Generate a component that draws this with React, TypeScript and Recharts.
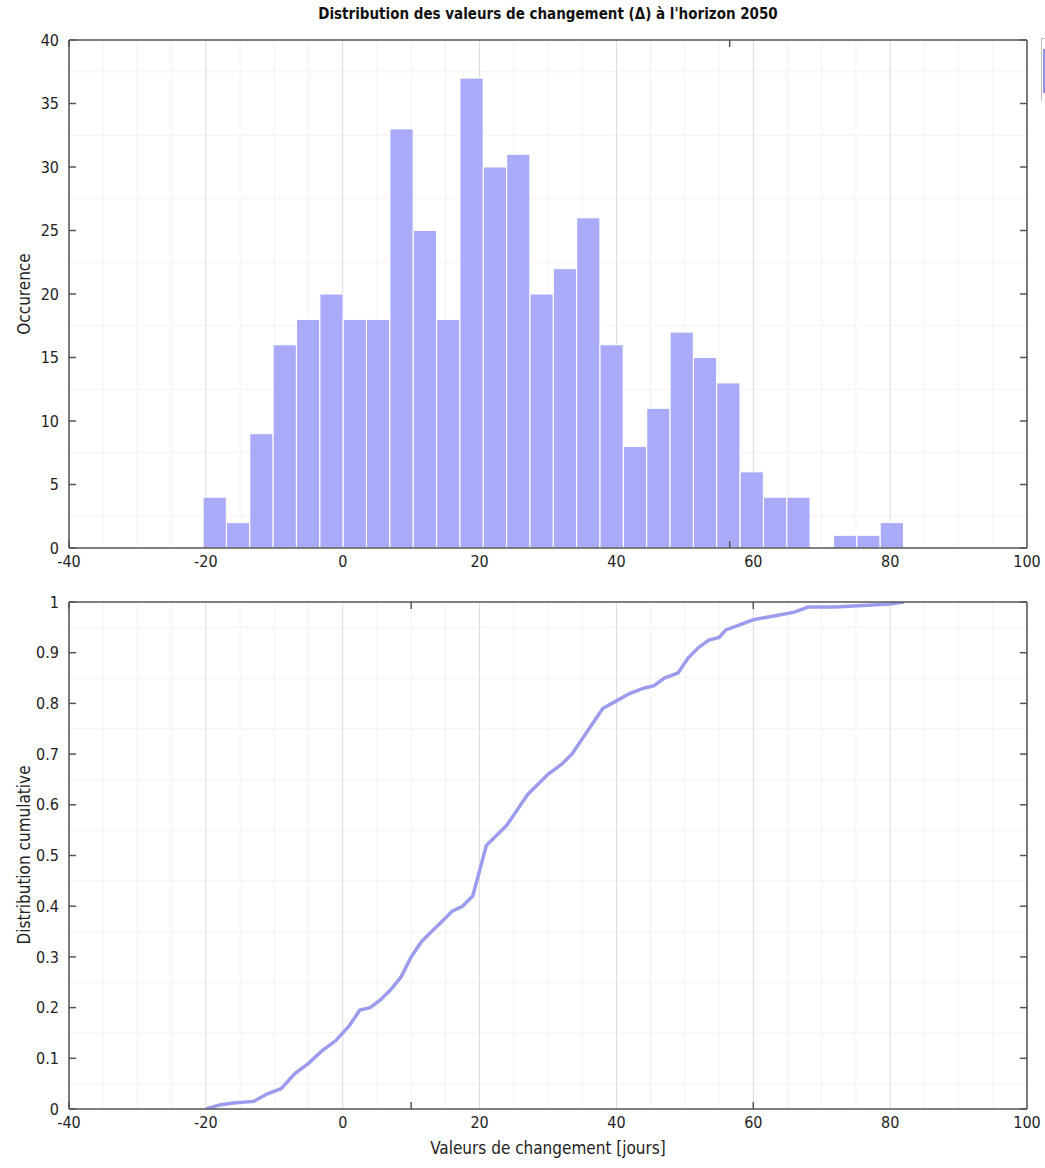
import React from 'react';
import { ComposedChart, Bar, LineChart, Line, XAxis, YAxis, CartesianGrid } from 'recharts';

// histogram bins (centre of each bin, width ~3.41 days) and counts
const binCenters = [
  -18.69, -15.28, -11.87, -8.46, -5.04, -1.63, 1.78, 5.19, 8.61, 12.02,
  15.43, 18.84, 22.25, 25.67, 29.08, 32.49, 35.9, 39.31, 42.73, 46.14,
  49.55, 52.96, 56.37, 59.79, 63.2, 66.61, 70.02, 73.43, 76.85, 80.26,
];
const counts = [
  4, 2, 9, 16, 18, 20, 18, 18, 33, 25,
  18, 37, 30, 31, 20, 22, 26, 16, 8, 11,
  17, 15, 13, 6, 4, 4, 0, 1, 1, 2,
];

// cumulative distribution
const cdfX = [
  -20, -18, -16, -13, -11, -9, -7, -5, -3, -1, 1, 2.5, 4, 5.5, 7, 8.5, 10, 11.5, 13, 14.5,
  16, 17.5, 19, 20, 21, 22.5, 24, 25.5, 27, 28.5, 30, 32, 33.5, 35, 36.5, 38, 40, 42, 44, 45.5,
  47, 49, 50.5, 52, 53.5, 55, 56, 58, 60, 62, 64, 66, 68, 72, 76, 80, 82,
];
const cdfY = [
  0, 0.008, 0.012, 0.015, 0.03, 0.04, 0.07, 0.09, 0.115, 0.135, 0.165, 0.195, 0.2, 0.215, 0.235, 0.26, 0.3, 0.33, 0.35, 0.37,
  0.39, 0.4, 0.42, 0.47, 0.52, 0.54, 0.56, 0.59, 0.62, 0.64, 0.66, 0.68, 0.7, 0.73, 0.76, 0.79, 0.805, 0.82, 0.83, 0.835,
  0.85, 0.86, 0.89, 0.91, 0.925, 0.93, 0.945, 0.955, 0.965, 0.97, 0.975, 0.98, 0.99, 0.99, 0.993, 0.996, 1,
];

const xTicks = [-40, -20, 0, 20, 40, 60, 80, 100];
const xMinor = [-35, -30, -25, -15, -10, -5, 5, 10, 15, 25, 30, 35, 45, 50, 55, 65, 70, 75, 85, 90, 95];
const occTicks = [0, 5, 10, 15, 20, 25, 30, 35, 40];
const occMinor = [2.5, 7.5, 12.5, 17.5, 22.5, 27.5, 32.5, 37.5];
const cdfTicks = [0, 0.1, 0.2, 0.3, 0.4, 0.5, 0.6, 0.7, 0.8, 0.9, 1];
const cdfMinor = [0.05, 0.15, 0.25, 0.35, 0.45, 0.55, 0.65, 0.75, 0.85, 0.95];

const histData = binCenters.map((c, i) => ({ c, n: counts[i] }));
const cdfData = cdfX.map((x, i) => ({ x, f: cdfY[i] }));

const FONT = '"Liberation Sans Narrow", "DejaVu Sans Condensed", "Arial Narrow", "Liberation Sans", sans-serif';
const BAR = '#aaabf8';
const LINE = '#9c9cee';
const AXIS = '#555';
const tickStyle = { fill: '#222', fontSize: 16, fontFamily: FONT };
const blank = () => '';

const W = 1045;
const plotW = 1027 - 69;
// a hair under the bin width, otherwise recharts shrinks the bars to 90%
const binPx = (3.41 / 140) * plotW - 0.15;

const yTitle: React.CSSProperties = {
  position: 'absolute',
  left: 24,
  transform: 'translate(-50%, -50%) rotate(-90deg)',
  whiteSpace: 'nowrap',
  fontSize: 17,
  fontFamily: FONT,
  color: '#222',
};

const App: React.FC = () => {
  return (
    <div style={{ position: 'absolute', left: 0, top: 0, width: W, height: 1168, background: '#fff', overflow: 'hidden' }}>
      <div style={{ position: 'absolute', left: 69, top: 5, width: plotW, textAlign: 'center', fontFamily: FONT, fontWeight: 'bold', fontSize: 15, color: '#111' }}>
        Distribution des valeurs de changement (Δ) à l'horizon 2050
      </div>

      {/* top panel: histogram */}
      <div style={{ position: 'absolute', left: 0, top: 0 }}>
        <ComposedChart width={W} height={575} data={histData} margin={{ top: 40, right: 18, left: 0, bottom: 0 }}>
          <CartesianGrid xAxisId="x" yAxisId="y" stroke="#f3f3f3" verticalValues={xMinor} horizontalValues={occMinor} />
          <CartesianGrid xAxisId="x" yAxisId="y" stroke="#dadada" horizontal={false} verticalValues={xTicks} />
          <XAxis xAxisId="x" type="number" dataKey="c" domain={[-40, 100]} ticks={xTicks} allowDataOverflow
            height={27} tickSize={0} tickMargin={8} tickLine={false} axisLine={{ stroke: AXIS, strokeWidth: 1.5 }} tick={tickStyle} />
          <XAxis xAxisId="xin" type="number" orientation="bottom" mirror domain={[-40, 100]} ticks={xTicks} allowDataOverflow
            tickSize={7} tickFormatter={blank} axisLine={false} tickLine={{ stroke: AXIS, strokeWidth: 1.5 }} />
          <XAxis xAxisId="xtop" type="number" orientation="top" mirror domain={[-40, 100]} ticks={xTicks} allowDataOverflow
            tickSize={7} tickFormatter={blank} axisLine={{ stroke: AXIS, strokeWidth: 1.5 }} tickLine={{ stroke: AXIS, strokeWidth: 1.5 }} />
          <YAxis yAxisId="y" type="number" domain={[0, 40]} ticks={occTicks} width={69} allowDataOverflow
            tickSize={0} tickMargin={10} tickLine={false} axisLine={{ stroke: AXIS, strokeWidth: 1.5 }} tick={tickStyle} />
          <YAxis yAxisId="yin" type="number" orientation="left" mirror domain={[0, 40]} ticks={occTicks} allowDataOverflow
            tickSize={7} tickFormatter={blank} axisLine={false} tickLine={{ stroke: AXIS, strokeWidth: 1.5 }} />
          <YAxis yAxisId="yright" type="number" orientation="right" mirror domain={[0, 40]} ticks={occTicks} allowDataOverflow
            tickSize={7} tickFormatter={blank} axisLine={{ stroke: AXIS, strokeWidth: 1.5 }} tickLine={{ stroke: AXIS, strokeWidth: 1.5 }} />
          <Bar xAxisId="x" yAxisId="y" dataKey="n" fill={BAR} stroke="#fff" strokeWidth={1} barSize={binPx} isAnimationActive={false} />
        </ComposedChart>
      </div>
      <div style={{ ...yTitle, top: 294 }}>Occurence</div>

      {/* bottom panel: cumulative distribution */}
      <div style={{ position: 'absolute', left: 0, top: 580 }}>
        <LineChart width={W} height={588} data={cdfData} margin={{ top: 22, right: 18, left: 0, bottom: 0 }}>
          <CartesianGrid xAxisId="x" yAxisId="y" stroke="#f3f3f3" verticalValues={xMinor} horizontalValues={cdfMinor} />
          <CartesianGrid xAxisId="x" yAxisId="y" stroke="#dadada" horizontal={false} verticalValues={xTicks} />
          <XAxis xAxisId="x" type="number" dataKey="x" domain={[-40, 100]} ticks={xTicks} allowDataOverflow
            height={59} tickSize={0} tickMargin={8} tickLine={false} axisLine={{ stroke: AXIS, strokeWidth: 1.5 }} tick={tickStyle}
            label={{ value: 'Valeurs de changement [jours]', position: 'insideBottom', offset: 14, style: { fill: '#222', fontSize: 17, fontFamily: FONT } }} />
          <XAxis xAxisId="xin" type="number" orientation="bottom" mirror domain={[-40, 100]} ticks={xTicks} allowDataOverflow
            tickSize={7} tickFormatter={blank} axisLine={false} tickLine={{ stroke: AXIS, strokeWidth: 1.5 }} />
          <XAxis xAxisId="xtop" type="number" orientation="top" mirror domain={[-40, 100]} ticks={xTicks} allowDataOverflow
            tickSize={7} tickFormatter={blank} axisLine={{ stroke: AXIS, strokeWidth: 1.5 }} tickLine={{ stroke: AXIS, strokeWidth: 1.5 }} />
          <YAxis yAxisId="y" type="number" domain={[0, 1]} ticks={cdfTicks} width={69} allowDataOverflow
            tickSize={0} tickMargin={10} tickLine={false} axisLine={{ stroke: AXIS, strokeWidth: 1.5 }} tick={tickStyle} />
          <YAxis yAxisId="yin" type="number" orientation="left" mirror domain={[0, 1]} ticks={cdfTicks} allowDataOverflow
            tickSize={7} tickFormatter={blank} axisLine={false} tickLine={{ stroke: AXIS, strokeWidth: 1.5 }} />
          <YAxis yAxisId="yright" type="number" orientation="right" mirror domain={[0, 1]} ticks={cdfTicks} allowDataOverflow
            tickSize={7} tickFormatter={blank} axisLine={{ stroke: AXIS, strokeWidth: 1.5 }} tickLine={{ stroke: AXIS, strokeWidth: 1.5 }} />
          <Line xAxisId="x" yAxisId="y" type="linear" dataKey="f" stroke={LINE} strokeWidth={3.5} dot={false} isAnimationActive={false} />
        </LineChart>
      </div>
      <div style={{ ...yTitle, top: 855 }}>Distribution cumulative</div>

      {/* clipped legend box at the right edge */}
      <div style={{ position: 'absolute', left: 1041, top: 38, width: 10, height: 62, borderLeft: '1px solid #bbb', borderTop: '1px solid #bbb', background: '#fff' }}>
        <div style={{ position: 'absolute', left: 1, top: 10, width: 3, height: 44, background: '#8f90e6' }} />
      </div>
    </div>
  );
};

export default App;
